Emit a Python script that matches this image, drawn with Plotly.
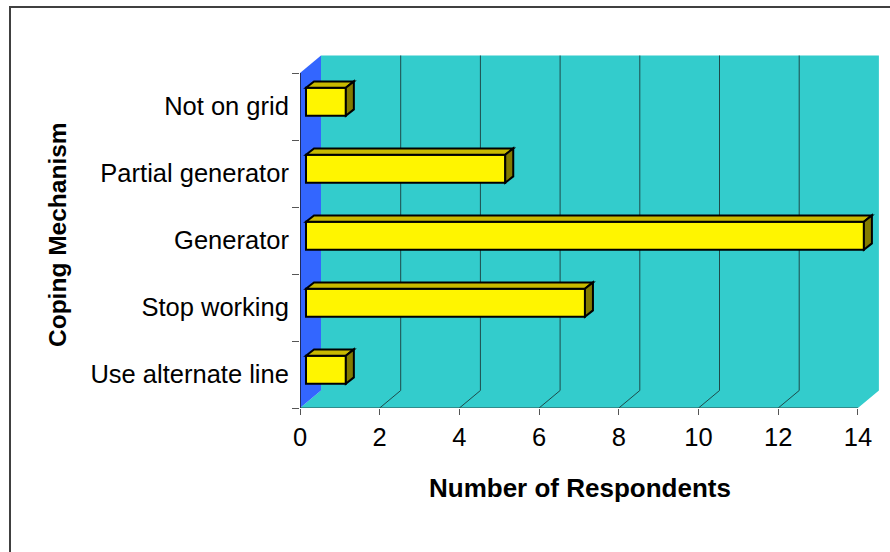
import plotly.graph_objects as go

# ---- data ----
categories = ["Use alternate line", "Stop working", "Generator", "Partial generator", "Not on grid"]
respondents = [1, 7, 14, 5, 1]
x_ticks = [0, 2, 4, 6, 8, 10, 12, 14]
x_title = "Number of Respondents"
y_title = "Coping Mechanism"

# ---- geometry (pixels) ----
W, H = 890, 552
L, R, T, B = 300, 8, 50, 144
PW, PH = W - L - R, H - T - B
XMAX = 14
PXU = 39.85          # pixels per x unit
PYU = 67.0           # pixels per category
xr = [0, PW / PXU]
yr = [-0.5, -0.5 + PH / PYU]
ncat = len(categories)
ylo, yhi = -0.5, ncat - 0.5

# depth of walls / bars, in data units
wdx, wdy = 21 / PXU, 17.5 / PYU
bsx, bsy = 6 / PXU, 4.8 / PYU
bdx, bdy = 8 / PXU, 6.3 / PYU
bw = 28 / PYU

CYAN = "#33CCCC"
BLUE = "#3366FF"
FRONT = "#FFF500"
TOP = "#C8B900"
SIDE = "#837B00"
GRID = "#1E4A4A"
OUT_W = 2


def px2paper(px, py):
    return (px - L) / PW, 1 - (py - T) / PH


def poly(pts):
    return "M " + " L ".join(f"{a},{b}" for a, b in pts) + " Z"


shapes = []
# floor + back wall
shapes.append(dict(type="path", xref="x", yref="y", layer="below",
                   path=poly([(0, ylo), (XMAX, ylo), (XMAX + wdx, ylo + wdy),
                              (XMAX + wdx, yhi + wdy), (wdx, yhi + wdy), (wdx, ylo + wdy)]),
                   fillcolor=CYAN, line=dict(width=0)))
# left wall
shapes.append(dict(type="path", xref="x", yref="y", layer="below",
                   path=poly([(0, ylo), (0, yhi), (wdx, yhi + wdy), (wdx, ylo + wdy)]),
                   fillcolor=BLUE, line=dict(width=0)))
# gridlines
for v in x_ticks[1:-1]:
    shapes.append(dict(type="path", xref="x", yref="y", layer="below",
                       path=f"M {v},{ylo} L {v + wdx},{ylo + wdy} L {v + wdx},{yhi + wdy}",
                       line=dict(color=GRID, width=1)))
# axis lines
shapes.append(dict(type="line", xref="x", yref="y", layer="below",
                   x0=0, x1=XMAX, y0=ylo, y1=ylo, line=dict(color="#2F4F4F", width=1.2)))
shapes.append(dict(type="line", xref="x", yref="y", layer="above",
                   x0=0, x1=0, y0=ylo, y1=yhi, line=dict(color="#1a1a2a", width=1.5)))

# 3D faces of bars
for i, v in enumerate(respondents):
    x0, x1 = bsx, bsx + v
    yb = i - bw / 2 + bsy
    yt = i + bw / 2 + bsy
    shapes.append(dict(type="path", xref="x", yref="y", layer="above",
                       path=poly([(x0, yt), (x0 + bdx, yt + bdy), (x1 + bdx, yt + bdy), (x1, yt)]),
                       fillcolor=TOP, line=dict(color="black", width=OUT_W)))
    shapes.append(dict(type="path", xref="x", yref="y", layer="above",
                       path=poly([(x1, yb), (x1, yt), (x1 + bdx, yt + bdy), (x1 + bdx, yb + bdy)]),
                       fillcolor=SIDE, line=dict(color="black", width=OUT_W)))

# outer frame
fx0, fy0 = px2paper(10, 7)
fx1, fy1 = px2paper(W + 10, H + 10)
shapes.append(dict(type="rect", xref="paper", yref="paper", x0=fx0, y0=fy0, x1=fx1, y1=fy1,
                   line=dict(color="#404040", width=2), layer="below"))

fig = go.Figure()
fig.add_trace(go.Bar(
    y=list(range(ncat)), x=respondents, base=bsx, orientation="h",
    width=bw, offset=bsy - bw / 2,
    marker=dict(color=FRONT, line=dict(color="black", width=OUT_W)),
    hoverinfo="skip", showlegend=False,
))

tx, ty = px2paper(580, 488)
lx, ly = px2paper(57, 235)
annotations = [
    dict(text=x_title, x=tx, y=ty, xref="paper", yref="paper", showarrow=False,
         xanchor="center", yanchor="middle",
         font=dict(family="Liberation Sans, Arial", size=26, color="black", weight="bold")),
    dict(text=y_title, x=lx, y=ly, xref="paper", yref="paper", showarrow=False, textangle=-90,
         xanchor="center", yanchor="middle",
         font=dict(family="Liberation Sans, Arial", size=24.5, color="black", weight="bold")),
]

fig.update_layout(
    width=W, height=H,
    margin=dict(l=L, r=R, t=T, b=B, pad=0),
    paper_bgcolor="white", plot_bgcolor="white",
    font=dict(family="Liberation Sans, Arial", size=25.5, color="black"),
    shapes=shapes, annotations=annotations,
    xaxis=dict(range=xr, tickmode="array", tickvals=x_ticks, ticktext=[str(t) for t in x_ticks],
               ticks="outside", ticklen=6, tickcolor="#555555", tickwidth=1,
               showgrid=False, zeroline=False, showline=False, fixedrange=True),
    yaxis=dict(range=yr, tickmode="array", tickvals=list(range(ncat)), ticktext=categories,
               ticks="outside", ticklen=5, tickcolor="rgba(0,0,0,0)",
               minor=dict(tickmode="array", tickvals=[k - 0.5 for k in range(ncat + 1)],
                          ticks="outside", ticklen=7, tickcolor="#555555", tickwidth=1,
                          showgrid=False),
               showgrid=False, zeroline=False, showline=False, fixedrange=True),
)

fig.write_html("out.html", config={"displayModeBar": False},
               post_script="document.body.style.margin='0';")
